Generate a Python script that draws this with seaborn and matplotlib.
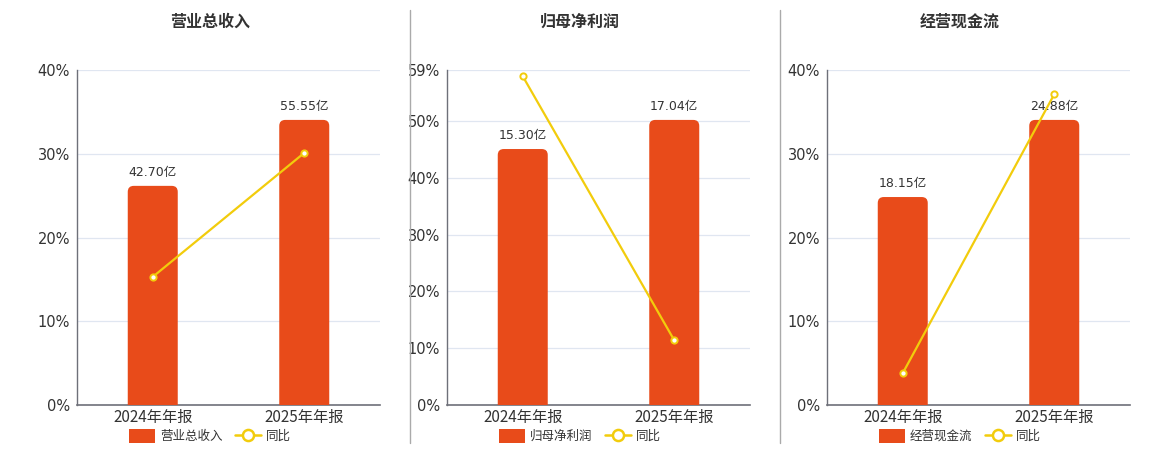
import matplotlib
matplotlib.use("Agg")
import matplotlib.pyplot as plt
import seaborn as sns
import pandas as pd
import numpy as np
from matplotlib.patches import FancyBboxPatch
from matplotlib.lines import Line2D
from matplotlib.ticker import FixedLocator

sns.set_theme(style="white")
plt.rcParams['font.family'] = ['DejaVu Sans', 'Noto Sans CJK SC']

periods = ["2024年年报", "2025年年报"]
titles = ["营业总收入", "归母净利润", "经营现金流"]
bar_values = [[42.70, 55.55], [15.30, 17.04], [18.15, 24.88]]
yoy_values = [[15.3, 30.1], [57.9, 11.4], [3.8, 37.1]]
pct_ticks = [[0, 10, 20, 30, 40], [0, 10, 20, 30, 40, 50, 59], [0, 10, 20, 30, 40]]

BAR_COLOR = "#E84B1A"
LINE_COLOR = "#F2CC0C"
TEXT_COLOR = "#333333"
AXIS_COLOR = "#6E7079"
GRID_COLOR = "#E0E6F1"

W, H = 1160, 450
fig = plt.figure(figsize=(11.6, 4.5), dpi=100)

ax_lefts = [77, 447, 827]
ax_w = 303
ax_top, ax_bottom = 70, 405
title_x = [210, 580, 960]

for i in range(3):
    l = ax_lefts[i]
    rect = [l / W, 1 - ax_bottom / H, ax_w / W, (ax_bottom - ax_top) / H]
    ax = fig.add_axes(rect)
    ymax = pct_ticks[i][-1]
    ax.set_xlim(-0.5, 1.5)
    ax.set_ylim(0, ymax)
    ax.set_yticks(pct_ticks[i])
    ax.set_yticklabels([f"{t}%" for t in pct_ticks[i]], fontsize=10.5, color=TEXT_COLOR)
    ax.yaxis.grid(True, color=GRID_COLOR, linewidth=0.9)
    ax.set_axisbelow(True)
    for s in ["top", "right"]:
        ax.spines[s].set_visible(False)
    ax.spines["left"].set_color(AXIS_COLOR)
    ax.spines["bottom"].set_color(AXIS_COLOR)
    ax.spines["left"].set_linewidth(1)
    ax.spines["bottom"].set_linewidth(1.2)
    ax.tick_params(axis="y", length=0, pad=5)
    ax.set_xticks([0, 1])
    ax.set_xticklabels(periods, fontsize=11, color=TEXT_COLOR,
                       family=['Noto Sans CJK SC', 'DejaVu Sans'])
    ax.tick_params(axis="x", which="major", length=0, pad=3)
    ax.xaxis.set_minor_locator(FixedLocator([-0.5, 0.5, 1.5]))
    ax.tick_params(axis="x", which="minor", length=5, color=AXIS_COLOR, width=1)

    # bars on a hidden twin axis
    axb = ax.twinx()
    df = pd.DataFrame({"period": periods, "value": bar_values[i]})
    sns.barplot(data=df, x="period", y="value", ax=axb, color=BAR_COLOR,
                width=0.33, saturation=1)
    bmax = max(bar_values[i]) / 0.851
    axb.set_ylim(0, bmax)
    axb.set_xlim(-0.5, 1.5)
    axb.axis("off")
    xpp = 2.0 / ax_w
    ypp = bmax / (ax_bottom - ax_top)
    r_px = 6
    rx = r_px * xpp
    ry = r_px * ypp
    bars = list(axb.patches)
    geoms = []
    for p in bars:
        geoms.append((p.get_x(), p.get_width(), p.get_height()))
        p.remove()
    for (x0, w, h) in geoms:
        fb = FancyBboxPatch((x0, -ry), w, h + ry,
                            boxstyle=f"round,pad=0,rounding_size={rx}",
                            mutation_aspect=ypp / xpp,
                            facecolor=BAR_COLOR, edgecolor="none")
        axb.add_patch(fb)

    # line on another hidden twin axis sharing percent scale
    axl = ax.twinx()
    axl.set_ylim(0, ymax)
    axl.set_xlim(-0.5, 1.5)
    dfl = pd.DataFrame({"x": [0, 1], "yoy": yoy_values[i]})
    sns.lineplot(data=dfl, x="x", y="yoy", ax=axl, color=LINE_COLOR, linewidth=1.6,
                 marker="o", markersize=4.5, markerfacecolor="white",
                 markeredgecolor=LINE_COLOR, markeredgewidth=1.4)
    axl.set_xlim(-0.5, 1.5)
    axl.axis("off")
    for (x0, w, h) in geoms:
        axl.annotate(f"{h:.2f}亿", xy=(x0 + w / 2, h), xycoords=axb.transData,
                     xytext=(0, 5), textcoords="offset points", ha="center", va="bottom",
                     fontsize=9, color=TEXT_COLOR, zorder=10,
                     family=['DejaVu Sans', 'Noto Sans CJK SC'])

    fig.text(title_x[i] / W, 1 - 22 / H, titles[i], ha="center", va="center",
             fontsize=11.5, fontweight="bold", color=TEXT_COLOR,
             family=['Noto Sans CJK SC', 'DejaVu Sans'])

    handles = [
        FancyBboxPatch((0, 0), 1, 1, boxstyle="round,pad=0,rounding_size=0.2",
                       facecolor=BAR_COLOR, edgecolor="none"),
        Line2D([0], [0], color=LINE_COLOR, linewidth=1.8, marker="o", markersize=8,
               markerfacecolor="white", markeredgecolor=LINE_COLOR, markeredgewidth=1.8),
    ]
    leg = fig.legend(handles, [titles[i], "同比"], loc="center",
                     bbox_to_anchor=(title_x[i] / W, 1 - 436 / H), ncol=2, frameon=False,
                     handlelength=2.1, handleheight=1.3, handletextpad=0.4,
                     columnspacing=1.0, prop={'family': ['Noto Sans CJK SC', 'DejaVu Sans'], 'size': 9})
    for t in leg.get_texts():
        t.set_color(TEXT_COLOR)

# separators
for xs in [410, 780]:
    fig.add_artist(Line2D([xs / W, xs / W], [1 - 10 / H, 1 - 443 / H],
                          color="#AAAAAA", linewidth=1, transform=fig.transFigure))

fig.savefig("out.png", dpi=100, facecolor="white")
